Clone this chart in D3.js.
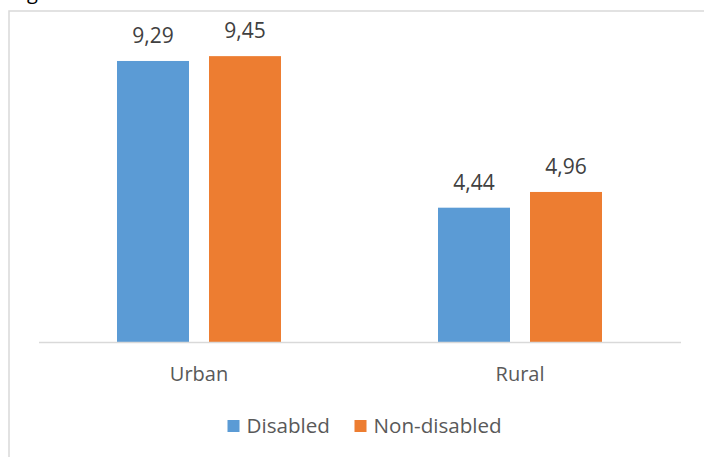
<!DOCTYPE html>
<html>
<head>
<meta charset="utf-8">
<script src="https://cdn.jsdelivr.net/npm/d3@7/dist/d3.min.js"></script>
<style>
  html, body { margin: 0; padding: 0; background: #fff; }
  svg { display: block; }
  text { font-family: "Open Sans", "DejaVu Sans", sans-serif; }
</style>
</head>
<body>
<svg id="chart" width="704" height="457"></svg>
<script>
// Categories and series
const categories = ["Urban", "Rural"];
const seriesNames = ["Disabled", "Non-disabled"];
const disabled = [9.29, 4.44];
const nonDisabled = [9.45, 4.96];
const seriesColors = ["#5b9bd5", "#ed7d31"];

const seriesValues = [disabled, nonDisabled];
const rows = categories.map((c, i) => ({
  category: c,
  values: seriesNames.map((s, j) => ({ series: s, value: seriesValues[j][i], idx: j }))
}));

const svg = d3.select("#chart");

// descender of the caption line sitting above the chart frame
svg.append("text")
  .attr("x", 27).attr("y", -1)
  .attr("font-size", 20)
  .attr("fill", "#000")
  .text("g");

// chart frame
svg.append("rect")
  .attr("x", 9).attr("y", 11)
  .attr("width", 760).attr("height", 500)
  .attr("fill", "none")
  .attr("stroke", "#d9d9d9")
  .attr("stroke-width", 1.5);

const baseY = 342;
const y = d3.scaleLinear().domain([0, 10]).range([baseY, 39.5]);

const x0 = d3.scaleBand().domain(categories).range([38.5, 680.5]).padding(0);
const x1 = d3.scaleBand().domain(seriesNames)
  .range([78.5, x0.bandwidth() - 78.5])
  .paddingInner(0.2174).paddingOuter(0);

const groups = svg.append("g").selectAll("g")
  .data(rows)
  .join("g")
  .attr("transform", d => `translate(${x0(d.category)},0)`);

groups.selectAll("rect")
  .data(d => d.values)
  .join("rect")
  .attr("x", d => x1(d.series))
  .attr("y", d => y(d.value))
  .attr("width", x1.bandwidth())
  .attr("height", d => baseY - y(d.value))
  .attr("fill", d => seriesColors[d.idx]);

// value labels
const fmt = v => v.toFixed(2).replace(".", ",");
groups.selectAll("text.val")
  .data(d => d.values)
  .join("text")
  .attr("class", "val")
  .attr("x", d => x1(d.series) + x1.bandwidth() / 2)
  .attr("y", d => y(d.value) - 18)
  .attr("text-anchor", "middle")
  .attr("font-size", 21)
  .attr("fill", "#404040")
  .text(d => fmt(d.value));

// category axis
const axis = svg.append("g")
  .attr("transform", `translate(0,${baseY})`)
  .call(d3.axisBottom(x0).tickSize(0).tickPadding(0));
axis.select(".domain").attr("stroke", "#d9d9d9").attr("stroke-width", 1.5);
axis.selectAll(".tick text")
  .attr("dy", 0)
  .attr("y", 39)
  .attr("font-size", 20)
  .attr("font-family", "\"Open Sans\", sans-serif")
  .attr("fill", "#595959");

// legend
const legend = svg.append("g").attr("transform", "translate(0,433)");
const legendItems = [
  { name: seriesNames[0], color: seriesColors[0], x: 227.5 },
  { name: seriesNames[1], color: seriesColors[1], x: 354.5 }
];
const li = legend.selectAll("g").data(legendItems).join("g")
  .attr("transform", d => `translate(${d.x},0)`);
li.append("rect")
  .attr("x", 0).attr("y", -13)
  .attr("width", 12).attr("height", 12)
  .attr("fill", d => d.color);
li.append("text")
  .attr("x", 19).attr("y", 0)
  .attr("font-size", 20.6)
  .attr("fill", "#595959")
  .text(d => d.name);
</script>
</body>
</html>
